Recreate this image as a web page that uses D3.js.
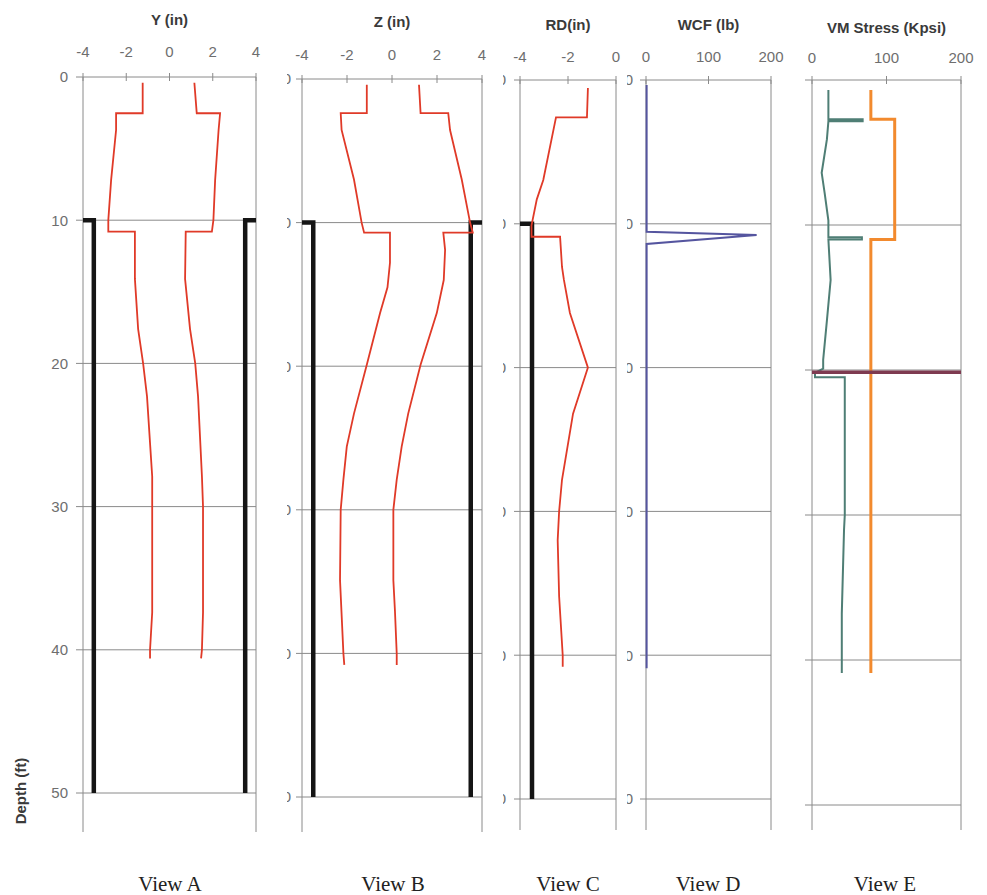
<!DOCTYPE html>
<html><head><meta charset="utf-8">
<script src="https://cdn.jsdelivr.net/npm/d3@7"></script>
<style>body{margin:0;background:#fff}svg{display:block}</style>
</head><body><svg id="c" width="987" height="895"></svg>
<script>
// ---------- data ----------
const depthTicks = [0, 10, 20, 30, 40, 50];
const inchTicks = [-4, -2, 0, 2, 4];
const rdTicks = [-4, -2, 0];
const wcfTicks = [0, 100, 200];
const vmTicks = [0, 100, 200];
const titles = ["Y (in)", "Z (in)", "RD(in)", "WCF (lb)", "VM Stress (Kpsi)"];
const viewLabels = ["View A", "View B", "View C", "View D", "View E"];

// each point: [value, depth ft]
const yMin = [[-1.24,0.4],[-1.24,2.53],[-2.47,2.53],[-2.47,3.7],[-2.7,7.2],[-2.83,10],[-2.83,10.8],[-1.6,10.8],[-1.6,14.1],[-1.45,17.6],[-1.22,20],[-1.04,22.3],[-0.8,27.9],[-0.8,30],[-0.8,37.4],[-0.9,40],[-0.9,40.6]];
const yMax = [[1.15,0.4],[1.26,2.53],[2.34,2.53],[2.27,3.7],[2.11,7.2],[2.03,10],[1.96,10.8],[0.75,10.8],[0.72,14.1],[0.95,17.6],[1.19,20],[1.32,22.3],[1.5,27.9],[1.55,30],[1.55,37.4],[1.5,40],[1.46,40.6]];
const zMin = [[-1.12,0.4],[-1.12,2.37],[-2.28,2.37],[-2.24,3.55],[-1.69,7.0],[-1.35,10],[-1.24,10.7],[-0.09,10.7],[-0.09,12.8],[-0.2,14.5],[-0.53,16.3],[-1.12,19.9],[-1.69,23.3],[-2.01,25.6],[-2.16,27.9],[-2.28,30],[-2.31,34.9],[-2.16,40],[-2.12,40.8]];
const zMax = [[1.2,0.4],[1.27,2.37],[2.5,2.37],[2.58,3.55],[3.1,7.0],[3.47,10],[3.59,10.7],[2.28,10.7],[2.36,11.9],[2.3,14],[1.99,16.3],[1.27,19.9],[0.72,23.3],[0.43,25.6],[0.21,27.9],[0.06,30],[0.06,34.9],[0.13,37],[0.21,40],[0.21,40.8]];
const casingLeft = [[-4,10],[-3.5,10],[-3.5,50]];
const casingRight = [[4,10],[3.5,10],[3.5,50]];
const rd = [[-1.17,0.56],[-1.21,2.6],[-2.5,2.6],[-3.03,6.95],[-3.3,8.3],[-3.52,10.1],[-3.52,10.9],[-2.33,10.9],[-2.25,13],[-2.17,13.9],[-1.92,16.2],[-1.17,20],[-1.79,23.2],[-2.25,27.8],[-2.37,30],[-2.43,32],[-2.37,35.9],[-2.22,40],[-2.22,40.8]];
const wcf = [[1,0.35],[1,10.55],[177,10.78],[1,11.4],[1,40.9]];
const vmTeal = [[22,0.69],[22,2.7],[68,2.7],[68,2.85],[22,2.85],[20,4.1],[13,6.4],[17,7.8],[22,9.7],[22,10.85],[67,10.85],[67,11.0],[22,11.0],[25,13.8],[20,16.6],[15,19.3],[15,19.9],[4,20.2],[4,20.5],[44,20.5],[44,30],[43,31],[40,36.8],[40,40.9]];
const vmOrange = [[79,0.69],[79,2.7],[111,2.7],[111,11.0],[79,11.0],[79,40.9]];
const vmLimit = [[0,20.15],[200,20.15]];

// ---------- layout ----------
const RED = "#e03a28", BLACK = "#151515";
const panels = [
  {x0:83, x1:256, y0:77, y50:793, bottom:832, dom:[-4,4], ticks:inchTicks, titleY:25, tickY:57, labEnd:68, clipL:0, tickL:7, viewX:170,
   series:[{d:casingLeft,c:BLACK,w:4.5},{d:casingRight,c:BLACK,w:4.5},{d:yMin,c:RED,w:1.8},{d:yMax,c:RED,w:1.8}]},
  {x0:302, x1:482, y0:79, y50:797, bottom:832, dom:[-4,4], ticks:inchTicks, titleY:27, tickY:60, labEnd:291, clipL:287, tickL:6, viewX:393,
   series:[{d:casingLeft,c:BLACK,w:4.5},{d:casingRight,c:BLACK,w:4.5},{d:zMin,c:RED,w:1.8},{d:zMax,c:RED,w:1.8}]},
  {x0:520, x1:616, y0:80, y50:799, bottom:830, dom:[-4,0], ticks:rdTicks, titleY:30, tickY:62, labEnd:506, clipL:503, tickL:6, viewX:568,
   series:[{d:casingLeft,c:BLACK,w:4.5},{d:rd,c:RED,w:1.8}]},
  {x0:646, x1:771, y0:80, y50:799, bottom:830, dom:[0,200], ticks:wcfTicks, titleY:30, tickY:62, labEnd:633, clipL:627, tickL:6, viewX:708,
   series:[{d:wcf,c:"#55559f",w:2}]},
  {x0:812, x1:961, y0:80, y50:805, bottom:830, dom:[0,200], ticks:vmTicks, titleY:33, tickY:63, labEnd:null, clipL:0, tickL:7, viewX:885,
   series:[{d:vmTeal,c:"#4f7e75",w:2},{d:vmOrange,c:"#f28a2e",w:3},{d:vmLimit,c:"#7e3a50",w:3.5}]}
];

const svg = d3.select("#c");
const GRID = "#8a8a8a";
const defs = svg.append("defs");

panels.forEach((p, i) => {
  const x = d3.scaleLinear().domain(p.dom).range([p.x0, p.x1]);
  const y = d3.scaleLinear().domain([0, 50]).range([p.y0, p.y50]);
  const g = svg.append("g");

  g.selectAll(".hg").data(depthTicks).join("line")
    .attr("x1", p.x0 - p.tickL).attr("x2", p.x1)
    .attr("y1", d => y(d)).attr("y2", d => y(d))
    .attr("stroke", GRID).attr("stroke-width", 1);
  [p.x0, p.x1].forEach(xx => g.append("line")
    .attr("x1", xx).attr("x2", xx).attr("y1", y(0)).attr("y2", p.bottom)
    .attr("stroke", GRID).attr("stroke-width", 1));
  g.selectAll(".tt").data(p.ticks).join("line")
    .attr("x1", d => x(d)).attr("x2", d => x(d))
    .attr("y1", y(0) - 4).attr("y2", y(0) + 4)
    .attr("stroke", GRID).attr("stroke-width", 1);
  g.selectAll(".tl").data(p.ticks).join("text")
    .attr("x", d => x(d)).attr("y", p.tickY)
    .attr("text-anchor", "middle")
    .attr("font-family", "Liberation Sans, Arial, sans-serif")
    .attr("font-size", 15).attr("fill", "#6e6e6e")
    .text(d => d);
  g.append("text").attr("x", (p.x0 + p.x1) / 2).attr("y", p.titleY)
    .attr("text-anchor", "middle")
    .attr("font-family", "Liberation Sans, Arial, sans-serif")
    .attr("font-size", 15).attr("font-weight", "bold").attr("fill", "#3a3a3a")
    .text(titles[i]);
  if (p.labEnd !== null) {
    let lg = g.append("g");
    if (p.clipL) {
      const id = "clip" + i;
      defs.append("clipPath").attr("id", id).append("rect")
        .attr("x", p.clipL).attr("y", 0).attr("width", p.x0 - p.clipL).attr("height", 895);
      lg.attr("clip-path", `url(#${id})`);
    }
    lg.selectAll("text").data(depthTicks).join("text")
      .attr("x", p.labEnd).attr("y", d => y(d)).attr("dy", "0.36em")
      .attr("text-anchor", "end")
      .attr("font-family", "Liberation Sans, Arial, sans-serif")
      .attr("font-size", 15).attr("fill", "#6e6e6e")
      .text(d => d);
  }
  const line = d3.line().x(d => x(d[0])).y(d => y(d[1]));
  p.series.forEach(s => g.append("path").attr("d", line(s.d))
    .attr("fill", "none").attr("stroke", s.c).attr("stroke-width", s.w)
    .attr("stroke-linejoin", "miter"));
  svg.append("text").attr("x", p.viewX).attr("y", 891)
    .attr("text-anchor", "middle")
    .attr("font-family", "Liberation Serif, Times New Roman, serif")
    .attr("font-size", 21).attr("fill", "#222")
    .text(viewLabels[i]);
});

svg.append("text").attr("transform", "translate(26,791) rotate(-90)")
  .attr("text-anchor", "middle")
  .attr("font-family", "Liberation Sans, Arial, sans-serif")
  .attr("font-size", 15).attr("font-weight", "bold").attr("fill", "#3a3a3a")
  .text("Depth (ft)");
</script></body></html>
